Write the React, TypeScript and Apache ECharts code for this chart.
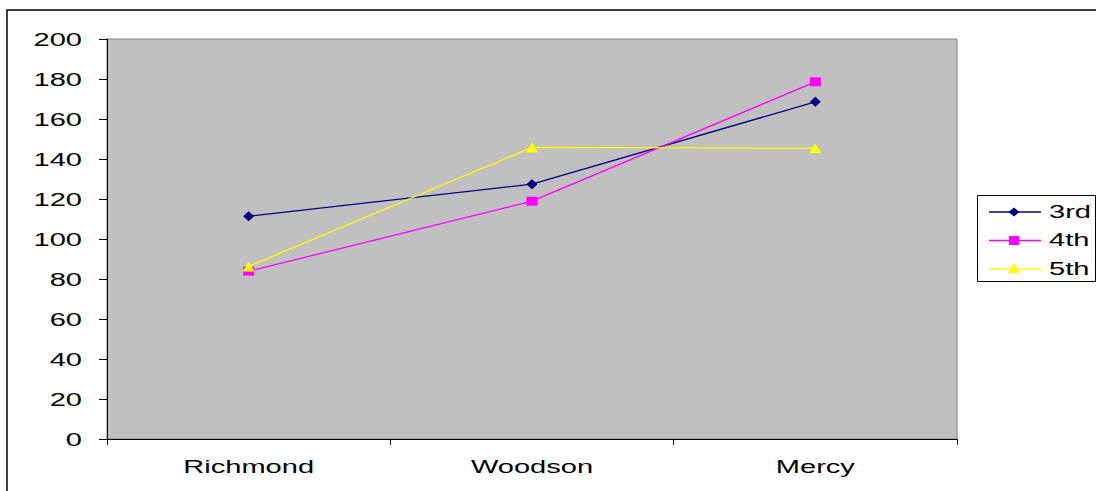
import React, { useEffect, useRef } from "react";
import * as echarts from "echarts";

const schools = ["Richmond", "Woodson", "Mercy"];
const grade3 = [111.4, 127.4, 168.6];
const grade4 = [83.9, 118.9, 178.6];
const grade5 = [86.3, 145.8, 145.4];
const yTicks = [0, 20, 40, 60, 80, 100, 120, 140, 160, 180, 200];

const seriesDefs = [
  { name: "3rd", data: grade3, color: "#000080", symbol: "diamond" },
  { name: "4th", data: grade4, color: "#ff00ff", symbol: "rect" },
  { name: "5th", data: grade5, color: "#ffff00", symbol: "triangle" },
];

const FONT = "'Liberation Sans', Arial, sans-serif";
const FS = 19;
const STRETCH = 1.53;

// wide, Excel-style label text
const wideText = (text: string, x: number, y: number, align: string) => ({
  type: "text",
  x,
  y,
  scaleX: STRETCH,
  silent: true,
  style: {
    text,
    fill: "#000",
    font: `${FS}px ${FONT}`,
    textAlign: align,
    textVerticalAlign: "middle",
  },
});

// legend marker shapes, centred on (cx, cy)
const legendMarker = (symbol: string, color: string, cx: number, cy: number) => {
  if (symbol === "diamond") {
    return {
      type: "polygon",
      shape: { points: [[cx, cy - 4.5], [cx + 5.5, cy], [cx, cy + 4.5], [cx - 5.5, cy]] },
      style: { fill: color },
      silent: true,
    };
  }
  if (symbol === "rect") {
    return {
      type: "rect",
      shape: { x: cx - 5, y: cy - 4.5, width: 10, height: 9 },
      style: { fill: color },
      silent: true,
    };
  }
  return {
    type: "polygon",
    shape: { points: [[cx, cy - 6], [cx + 6, cy + 4], [cx - 6, cy + 4]] },
    style: { fill: color },
    silent: true,
  };
};

export default function App() {
  const ref = useRef<HTMLDivElement>(null);

  useEffect(() => {
    if (!ref.current) return;
    const chart = echarts.init(ref.current, null, { renderer: "svg" });
    chart.setOption({
      animation: false,
      backgroundColor: "#ffffff",
      textStyle: { fontFamily: FONT },
      grid: {
        left: 107,
        right: 139,
        top: 39,
        bottom: 52,
        show: true,
        backgroundColor: "#c0c0c0",
        borderColor: "#808080",
        borderWidth: 1,
      },
      legend: { show: false, data: seriesDefs.map((s) => s.name) },
      xAxis: {
        type: "category",
        data: schools,
        boundaryGap: true,
        axisLine: { lineStyle: { color: "#000", width: 1 } },
        axisTick: { show: true, length: 6, lineStyle: { color: "#000" } },
        axisLabel: { show: false },
        splitLine: { show: false },
      },
      yAxis: {
        type: "value",
        min: 0,
        max: 200,
        interval: 20,
        axisLine: { show: true, lineStyle: { color: "#000", width: 1 } },
        axisTick: { show: true, length: 8, lineStyle: { color: "#000" } },
        axisLabel: { show: false },
        splitLine: { show: false },
      },
      series: seriesDefs.map((s) => ({
        name: s.name,
        type: "line",
        data: s.data,
        symbol: s.symbol,
        symbolSize: s.symbol === "diamond" ? [11, 10] : s.symbol === "rect" ? [11, 9] : [12, 10],
        lineStyle: { color: s.color, width: 1.3 },
        itemStyle: { color: s.color, borderWidth: 0 },
        emphasis: { disabled: true },
      })),
    });

    // axis labels placed through the axes' own scales
    const graphics: any[] = [];
    yTicks.forEach((v) => {
      const py = chart.convertToPixel({ yAxisIndex: 0 }, v) as number;
      graphics.push(wideText(String(v), 82, py, "right"));
    });
    const axisY = chart.convertToPixel({ yAxisIndex: 0 }, 0) as number;
    schools.forEach((c) => {
      const px = chart.convertToPixel({ xAxisIndex: 0 }, c) as number;
      graphics.push(wideText(c, px, axisY + 27, "center"));
    });

    // legend box
    graphics.push({
      type: "rect",
      shape: { x: 977.5, y: 195.5, width: 118, height: 86 },
      style: { fill: "#fff", stroke: "#000", lineWidth: 1 },
      silent: true,
    });
    const rowY = [212, 240.5, 269];
    seriesDefs.forEach((s, i) => {
      const cy = rowY[i];
      graphics.push({
        type: "line",
        shape: { x1: 989, y1: cy, x2: 1041, y2: cy },
        style: { stroke: s.color, lineWidth: 1.3 },
        silent: true,
      });
      graphics.push(legendMarker(s.symbol, s.color, 1014, cy));
      graphics.push(wideText(s.name, 1049, cy - 1, "left"));
    });

    // outer chart frame
    graphics.push({
      type: "rect",
      shape: { x: 7, y: 10, width: 1200, height: 600 },
      style: { fill: "none", stroke: "#000", lineWidth: 1.5 },
      silent: true,
      z: 100,
    });

    chart.setOption({ graphic: graphics });
    return () => chart.dispose();
  }, []);

  return (
    <div
      ref={ref}
      style={{ position: "absolute", left: 0, top: 0, width: 1096, height: 491 }}
    />
  );
}
